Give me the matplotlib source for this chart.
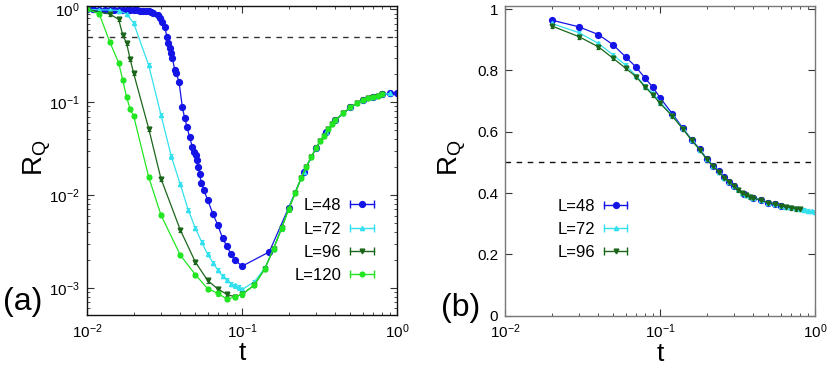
import numpy as np
import matplotlib
matplotlib.use('Agg')
import matplotlib.pyplot as plt
from matplotlib.lines import Line2D
from matplotlib.legend_handler import HandlerLine2D, HandlerTuple
from matplotlib.ticker import LogLocator, NullFormatter, FuncFormatter

plt.rcParams['font.family'] = ['Liberation Sans', 'DejaVu Sans']
plt.rcParams['mathtext.fontset'] = 'custom'
plt.rcParams['mathtext.rm'] = 'Liberation Sans'
plt.rcParams['mathtext.it'] = 'Liberation Sans:italic'

# ---- panel (a) data ----
t48 = [0.010, 0.011, 0.012, 0.013, 0.014, 0.015, 0.016, 0.017, 0.018, 0.019, 0.020, 0.021,
       0.022, 0.023, 0.024, 0.025, 0.026, 0.0267, 0.0287, 0.0294, 0.0306, 0.0317, 0.0328,
       0.0333, 0.0341, 0.035, 0.0356, 0.0368, 0.0377, 0.0392, 0.0412, 0.0427, 0.0442, 0.0459,
       0.0478, 0.049, 0.0502, 0.0513, 0.052, 0.0533, 0.0547, 0.0566, 0.060, 0.065, 0.070,
       0.075, 0.080, 0.085, 0.090, 0.100, 0.150, 0.200, 0.250, 0.300, 0.350, 0.400, 0.500,
       0.600, 0.700, 0.800, 0.900, 1.000]
R48 = [0.995, 0.995, 0.99, 0.99, 0.99, 0.99, 0.985, 0.985, 0.98, 0.98, 0.98, 0.975,
       0.97, 0.965, 0.96, 0.95, 0.93, 0.906, 0.869, 0.80, 0.736, 0.65, 0.507,
       0.43, 0.38, 0.336, 0.297, 0.222, 0.204, 0.166, 0.089, 0.067, 0.054, 0.042,
       0.033, 0.029, 0.027, 0.024, 0.020, 0.017, 0.0133, 0.0113, 0.0089, 0.0062, 0.0047,
       0.0034, 0.0028, 0.0023, 0.0020, 0.00171, 0.00244, 0.0073, 0.0175, 0.032, 0.048, 0.064, 0.088,
       0.105, 0.114, 0.121, 0.124, 0.125]

t72 = [0.010, 0.012, 0.014, 0.016, 0.018, 0.020, 0.025, 0.030, 0.035, 0.040, 0.045, 0.050,
       0.055, 0.060, 0.065, 0.070, 0.075, 0.080, 0.085, 0.090, 0.095, 0.100, 0.120, 0.140,
       0.160, 0.180, 0.200, 0.250, 0.300, 0.350, 0.400, 0.450, 0.500, 0.600, 0.700, 0.800, 0.900]
R72 = [1.0, 0.985, 0.985, 0.97, 0.89, 0.71, 0.25, 0.073, 0.026, 0.013, 0.0069, 0.0044,
       0.0031, 0.0023, 0.00186, 0.00155, 0.00133, 0.00121, 0.00111, 0.00106, 0.00101, 0.00096, 0.00116, 0.00162,
       0.00265, 0.0044, 0.0073, 0.0175, 0.032, 0.048, 0.064, 0.076, 0.088, 0.105, 0.114, 0.121, 0.124]

t96 = [0.010, 0.014, 0.016, 0.017, 0.018, 0.019, 0.020, 0.025, 0.030, 0.040, 0.050, 0.060,
       0.070, 0.080, 0.090, 0.100, 0.120, 0.140, 0.160, 0.180, 0.200, 0.220, 0.240, 0.260,
       0.280, 0.300, 0.320, 0.340, 0.360, 0.380, 0.400, 0.450, 0.500, 0.550, 0.600, 0.650,
       0.700, 0.750, 0.800]
R96 = [1.0, 0.89, 0.78, 0.53, 0.43, 0.29, 0.204, 0.052, 0.015, 0.0042, 0.0019, 0.0012,
       0.00097, 0.00085, 0.0008, 0.00085, 0.00107, 0.00159, 0.00265, 0.0044, 0.0071, 0.0104, 0.0151, 0.0201,
       0.0258, 0.0318, 0.0384, 0.0431, 0.0509, 0.0577, 0.0641, 0.0757, 0.0879, 0.097, 0.1046, 0.11,
       0.1143, 0.1173, 0.1214]

t120 = [0.010, 0.012, 0.014, 0.016, 0.017, 0.018, 0.019, 0.020, 0.025, 0.030, 0.040, 0.050,
        0.060, 0.070, 0.080, 0.090, 0.100, 0.120, 0.140, 0.160, 0.180, 0.200, 0.220, 0.240,
        0.260, 0.280, 0.300, 0.320, 0.340, 0.360, 0.380, 0.400, 0.450, 0.500, 0.550, 0.600,
        0.650, 0.700, 0.750, 0.800]
R120 = [1.0, 0.89, 0.448, 0.266, 0.173, 0.114, 0.0836, 0.071, 0.0156, 0.0061, 0.00225, 0.00139,
        0.00098, 0.00087, 0.000755, 0.000798, 0.000848, 0.00107, 0.00159, 0.00265, 0.00436, 0.00698, 0.0104, 0.0151,
        0.0201, 0.0258, 0.0318, 0.0384, 0.0431, 0.0509, 0.0577, 0.0641, 0.0757, 0.0879, 0.097, 0.1046,
        0.11, 0.1143, 0.1173, 0.1214]

# ---- panel (b) data ----
tb48 = [0.02, 0.03, 0.04, 0.05, 0.06, 0.07, 0.08, 0.09, 0.10, 0.12, 0.14, 0.16, 0.18, 0.20,
        0.22, 0.24, 0.26, 0.28, 0.30, 0.35, 0.40, 0.45, 0.50, 0.55, 0.60]
Rb48 = [0.964, 0.942, 0.917, 0.883, 0.844, 0.811, 0.775, 0.745, 0.711, 0.659, 0.613, 0.574, 0.544, 0.512,
        0.489, 0.471, 0.451, 0.437, 0.424, 0.397, 0.385, 0.377, 0.369, 0.364, 0.359]
tb72 = [0.02, 0.03, 0.04, 0.05, 0.06, 0.07, 0.08, 0.09, 0.10, 0.12, 0.14, 0.16, 0.18, 0.20,
        0.22, 0.24, 0.26, 0.28, 0.30, 0.32, 0.34, 0.36, 0.38, 0.40, 0.45, 0.50, 0.55, 0.60,
        0.65, 0.70, 0.75, 0.80, 0.85, 0.90, 0.95, 1.00]
Rb72 = [0.953, 0.923, 0.888, 0.850, 0.817, 0.783, 0.749, 0.725, 0.697, 0.653, 0.611, 0.573, 0.542, 0.511,
        0.488, 0.470, 0.450, 0.437, 0.423, 0.412, 0.401, 0.394, 0.389, 0.385, 0.377, 0.368, 0.364, 0.359,
        0.355, 0.353, 0.350, 0.348, 0.346, 0.343, 0.340, 0.337]
tb96 = [0.02, 0.03, 0.04, 0.05, 0.06, 0.07, 0.08, 0.09, 0.10, 0.12, 0.14, 0.16, 0.18, 0.20,
        0.22, 0.24, 0.26, 0.28, 0.30, 0.32, 0.34, 0.36, 0.38, 0.40, 0.45, 0.50, 0.55, 0.60,
        0.65, 0.70, 0.75, 0.80]
Rb96 = [0.945, 0.910, 0.877, 0.839, 0.807, 0.780, 0.746, 0.720, 0.693, 0.651, 0.610, 0.572, 0.542, 0.510,
        0.487, 0.469, 0.450, 0.436, 0.422, 0.411, 0.400, 0.393, 0.388, 0.384, 0.376, 0.368, 0.363, 0.358,
        0.355, 0.352, 0.349, 0.347]

labels_a = ['L=48', 'L=72', 'L=96', 'L=120']
labels_b = ['L=48', 'L=72', 'L=96']
colors = ['#1414e6', '#33e0ee', '#1b661b', '#22e622']
markers = ['o', '^', 'v', 'o']
msizes = [4.2, 3.0, 3.4, 3.4]
rel_err = 0.05   # size of the small error bars (relative)


def legend_handle(c, m, ms):
    bar = Line2D([], [], color=c, lw=1, marker='|', markersize=6, markeredgewidth=1)
    dot = Line2D([], [], color=c, lw=0, marker=m, markersize=ms)
    return (bar, dot), {bar: HandlerLine2D(numpoints=2, marker_pad=0.0),
                        dot: HandlerLine2D(numpoints=1)}


def style_axes(ax, spine_col):
    for s in ax.spines.values():
        s.set_color(spine_col)
        s.set_linewidth(1.0)
    ax.tick_params(which='both', direction='in', top=True, right=True, labelsize=11, pad=5)
    ax.tick_params(which='major', length=5, color='#333')
    ax.tick_params(which='minor', length=2.5, color='#333')


fig = plt.figure(figsize=(8.3, 3.69), dpi=100)
ax1 = fig.add_axes([87 / 830, 54 / 369, 310 / 830, 309 / 369])
ax2 = fig.add_axes([505 / 830, 53.3 / 369, 310 / 830, 309.7 / 369])

# panel (a)
series_a = [(t48, R48), (t72, R72), (t96, R96), (t120, R120)]
handles, hmap = [], {}
for (t, R), c, m, ms in zip(series_a, colors, markers, msizes):
    R = np.array(R)
    ax1.errorbar(t, R, yerr=rel_err * R, color=c, marker=m, markersize=ms, lw=0.9,
                 elinewidth=0.8, capsize=1.5, capthick=0.8)
    h, hm = legend_handle(c, m, ms)
    handles.append(h)
    hmap.update(hm)
ax1.axhline(0.5, color='#333', ls=(0, (4, 4)), lw=1)
ax1.set_xscale('log')
ax1.set_yscale('log')
ax1.set_xlim(0.01, 1)
ax1.set_ylim(5.1e-4, 1.085)
ax1.xaxis.set_minor_locator(LogLocator(subs=np.arange(2, 10)))
ax1.yaxis.set_minor_locator(LogLocator(subs=np.arange(2, 10)))
ax1.xaxis.set_minor_formatter(NullFormatter())
ax1.yaxis.set_minor_formatter(NullFormatter())
style_axes(ax1, '#111')
ax1.set_xlabel('t', fontsize=19)
ax1.xaxis.set_label_coords(0.5, -0.085)
ax1.set_ylabel(r'R$_\mathrm{Q}$', fontsize=20)
ax1.yaxis.set_label_coords(-0.11, 0.51)
ax1.legend(handles, labels_a, handler_map={**hmap, tuple: HandlerTuple(ndivide=1, pad=0)},
           loc='upper right', bbox_to_anchor=(0.925, 0.378), frameon=False, markerfirst=False,
           fontsize=12, handlelength=1.4, handletextpad=0.55, labelspacing=0.5,
           borderpad=0, borderaxespad=0)

# panel (b)
series_b = [(tb48, Rb48), (tb72, Rb72), (tb96, Rb96)]
handles, hmap = [], {}
for (t, R), c, m, ms in zip(series_b, colors[:3], markers[:3], msizes[:3]):
    ax2.errorbar(t, R, yerr=0.006, color=c, marker=m, markersize=ms, lw=0.9,
                 elinewidth=0.8, capsize=1.5, capthick=0.8)
    h, hm = legend_handle(c, m, ms)
    handles.append(h)
    hmap.update(hm)
ax2.axhline(0.5, color='#111', ls=(0, (4, 4)), lw=1)
ax2.set_xscale('log')
ax2.set_xlim(0.01, 1)
ax2.set_ylim(0, 1.01)
ax2.set_yticks([0, 0.2, 0.4, 0.6, 0.8, 1.0])
ax2.yaxis.set_major_formatter(FuncFormatter(lambda v, p: '%g' % v))
ax2.xaxis.set_minor_locator(LogLocator(subs=np.arange(2, 10)))
ax2.xaxis.set_minor_formatter(NullFormatter())
style_axes(ax2, '#777')
ax2.set_xlabel('t', fontsize=19)
ax2.xaxis.set_label_coords(0.5, -0.085)
ax2.set_ylabel(r'R$_\mathrm{Q}$', fontsize=20)
ax2.yaxis.set_label_coords(-0.12, 0.51)
ax2.legend(handles, labels_b, handler_map={**hmap, tuple: HandlerTuple(ndivide=1, pad=0)},
           loc='upper right', bbox_to_anchor=(0.395, 0.378), frameon=False, markerfirst=False,
           fontsize=12, handlelength=1.4, handletextpad=0.55, labelspacing=0.5,
           borderpad=0, borderaxespad=0)

fig.text(3 / 830, 1 - 302 / 369, '(a)', fontsize=23, va='center', ha='left')
fig.text(441 / 830, 1 - 308 / 369, '(b)', fontsize=23, va='center', ha='left')

fig.savefig('out.png', dpi=100)
